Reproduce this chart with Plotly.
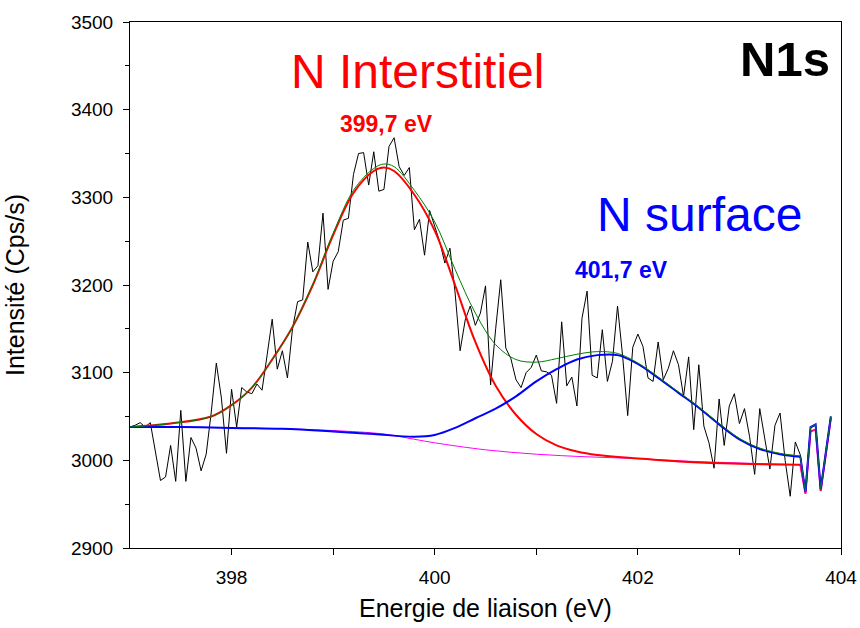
import numpy as np
import plotly.graph_objects as go

# Measured spectrum (0.05 eV steps starting at 397.0 eV)
energy = [round(397.0 + 0.05 * k, 2) for k in range(139)]
counts = [
    3038, 3040, 3043, 3038, 3043, 3012, 2977, 2981, 3017, 2976,
    3057, 2976, 3026, 3014, 2988, 3007, 3055, 3111, 3071, 3008,
    3081, 3038, 3083, 3078, 3076, 3087, 3080, 3120, 3161, 3104,
    3125, 3094, 3150, 3181, 3183, 3249, 3215, 3222, 3282, 3195,
    3227, 3238, 3274, 3276, 3326, 3350, 3351, 3314, 3352, 3307,
    3309, 3358, 3368, 3335, 3325, 3334, 3263, 3275, 3234, 3285,
    3266, 3249, 3225, 3242, 3192, 3125, 3160, 3176, 3154, 3168,
    3199, 3086, 3150, 3206, 3128, 3116, 3092, 3083, 3100, 3106,
    3120, 3102, 3101, 3097, 3065, 3158, 3085, 3095, 3062, 3162,
    3193, 3097, 3094, 3149, 3090, 3113, 3176, 3119, 3051, 3129,
    3144, 3130, 3094, 3090, 3135, 3092, 3105, 3125, 3109, 3073,
    3118, 3035, 3109, 3039, 3020, 2991, 3070, 3017, 3062, 3076,
    3042, 3059, 3027, 2984, 3059, 3023, 2990, 3040, 3054, 3000,
    2959, 3021, 3006, 2963, 3037, 3040, 2966, 3008, 3050,
]

# Background (magenta)
bg_x = [397.0, 397.5, 398.0, 398.5, 399.0, 399.5, 399.8, 400.0, 400.5, 401.0,
        401.5, 402.0, 402.5, 403.0, 403.6]
bg_y = [3038, 3038, 3037, 3036, 3034, 3030, 3024, 3020, 3012, 3007,
        3004, 3002, 2999, 2997, 2995]

# N interstitiel component (red)
red_x = [397.0, 397.4, 397.8, 398.0, 398.2, 398.4, 398.6, 398.8, 399.0, 399.2,
         399.4, 399.5, 399.6, 399.8, 400.0, 400.2, 400.4, 400.6, 400.8, 401.0,
         401.2, 401.4, 401.6, 402.0, 402.5, 403.0, 403.6]
red_y = [3038, 3042, 3050, 3063, 3083, 3115, 3152, 3200, 3257, 3305,
         3330, 3334, 3330, 3303, 3262, 3200, 3135, 3085, 3052, 3030,
         3017, 3010, 3006, 3002, 2998, 2996, 2995]

# N surface component (blue)
blue_x = [397.0, 397.5, 398.0, 398.5, 399.0, 399.4, 399.8, 400.0, 400.2, 400.4,
          400.6, 400.8, 401.0, 401.2, 401.4, 401.6, 401.8, 402.0, 402.2, 402.4,
          402.6, 402.8, 403.0, 403.2, 403.4, 403.6]
blue_y = [3038, 3038, 3037, 3036, 3033, 3030, 3027, 3029, 3037, 3048,
          3059, 3073, 3090, 3104, 3115, 3120, 3120, 3110, 3094, 3077,
          3060, 3041, 3024, 3013, 3007, 3004]

# Envelope (green)
env_x = [397.0, 397.4, 397.8, 398.0, 398.2, 398.4, 398.6, 398.8, 399.0, 399.2,
         399.4, 399.5, 399.6, 399.8, 400.0, 400.2, 400.4, 400.6, 400.8, 401.0,
         401.2, 401.4, 401.6, 401.8, 402.0, 402.2, 402.4, 402.6, 402.8, 403.0,
         403.2, 403.4, 403.6]
env_y = [3038, 3042, 3050, 3063, 3083, 3115, 3152, 3201, 3259, 3308,
         3333, 3338, 3335, 3308, 3272, 3218, 3168, 3132, 3115, 3112,
         3116, 3121, 3124, 3122, 3111, 3095, 3078, 3061, 3042, 3025,
         3014, 3008, 3005]

# Tail where the fit follows the data
tail_x = [403.6, 403.65, 403.7, 403.75, 403.8, 403.85, 403.9]
tail_hi = [3004, 2964, 3038, 3041, 2967, 3008, 3050]
tail_lo = [2995, 2962, 3033, 3035, 2965, 3006, 3048]

x_ticks = [398, 400, 402, 404]
x_minor = [399, 401, 403]

FONT = "Liberation Sans, Arial, sans-serif"

fig = go.Figure()
fig.add_trace(go.Scatter(x=energy, y=counts, mode="lines",
                         line=dict(color="black", width=1)))
fig.add_trace(go.Scatter(x=bg_x, y=bg_y, mode="lines", line_shape="spline",
                         line=dict(color="#FF00FF", width=1)))
fig.add_trace(go.Scatter(x=tail_x, y=tail_lo, mode="lines",
                         line=dict(color="#FF00FF", width=2)))
fig.add_trace(go.Scatter(x=red_x, y=red_y, mode="lines", line_shape="spline",
                         line=dict(color="#FF0000", width=2)))
fig.add_trace(go.Scatter(x=tail_x, y=tail_lo, mode="lines",
                         line=dict(color="#FF1060", width=1.5)))
fig.add_trace(go.Scatter(x=blue_x, y=blue_y, mode="lines", line_shape="spline",
                         line=dict(color="#0000FF", width=2)))
fig.add_trace(go.Scatter(x=tail_x, y=tail_hi, mode="lines",
                         line=dict(color="#0000FF", width=2)))
fig.add_trace(go.Scatter(x=env_x, y=env_y, mode="lines", line_shape="spline",
                         line=dict(color="#008000", width=1)))
fig.add_trace(go.Scatter(x=tail_x, y=tail_hi, mode="lines",
                         line=dict(color="#107040", width=1)))

annots = [
    dict(x=399.83, y=3443, text="N Interstitiel", font=dict(size=48, color="#FF0000")),
    dict(x=399.53, y=3384, text="<b>399,7 eV</b>", font=dict(size=23, color="#FF0000")),
    dict(x=402.61, y=3280, text="N surface", font=dict(size=48, color="#0000FF")),
    dict(x=401.84, y=3217, text="<b>401,7 eV</b>", font=dict(size=23, color="#0000FF")),
    dict(x=403.45, y=3458, text="<b>N1s</b>", font=dict(size=49, color="black")),
]
for a in annots:
    fig.add_annotation(x=a["x"], y=a["y"], text=a["text"], showarrow=False,
                       xanchor="center", yanchor="middle",
                       font=dict(family=FONT, **a["font"]))

fig.update_layout(
    width=860, height=628,
    margin=dict(l=130, r=19, t=22, b=80, autoexpand=False),
    paper_bgcolor="white", plot_bgcolor="white",
    showlegend=False, hovermode=False,
    font=dict(family=FONT, color="black"),
    xaxis2=dict(overlaying="x", side="top", range=[397, 404], tickvals=x_ticks,
                ticks="inside", ticklen=6, tickcolor="black", showticklabels=False,
                showgrid=False, zeroline=False, showline=False, automargin=False,
                minor=dict(tickvals=x_minor, ticks="inside", ticklen=6, tickcolor="black")),
    yaxis2=dict(overlaying="y", side="right", range=[2900, 3500], dtick=100,
                ticks="inside", ticklen=6, tickcolor="black", showticklabels=False,
                showgrid=False, zeroline=False, showline=False, automargin=False,
                minor=dict(dtick=50, ticks="inside", ticklen=4, tickcolor="black")),
)
fig.layout.xaxis.update(
    range=[397, 404], tickvals=x_ticks, ticks="outside", automargin=False,
    ticklen=6, tickcolor="black", showline=True, linecolor="black", linewidth=1,
    mirror=True, showgrid=False, zeroline=False, ticklabelstandoff=6,
    tickfont=dict(size=19),
    title=dict(text="Energie de liaison (eV)", font=dict(size=25), standoff=12),
    minor=dict(tickvals=x_minor, ticks="outside", ticklen=6, tickcolor="black"),
)
fig.layout.yaxis.update(
    range=[2900, 3500], dtick=100, ticks="outside", ticklen=6, tickcolor="black",
    showline=True, linecolor="black", linewidth=1, mirror=True, automargin=False,
    showgrid=False, zeroline=False, tickfont=dict(size=19), ticklabelstandoff=6,
    title=dict(text="Intensité (Cps/s)", font=dict(size=25), standoff=39),
    minor=dict(dtick=50, ticks="outside", ticklen=4, tickcolor="black"),
)

fig.write_html(
    "out.html",
    config={"displayModeBar": False},
    post_script="document.body.style.margin='0';document.body.style.overflow='hidden';",
)
